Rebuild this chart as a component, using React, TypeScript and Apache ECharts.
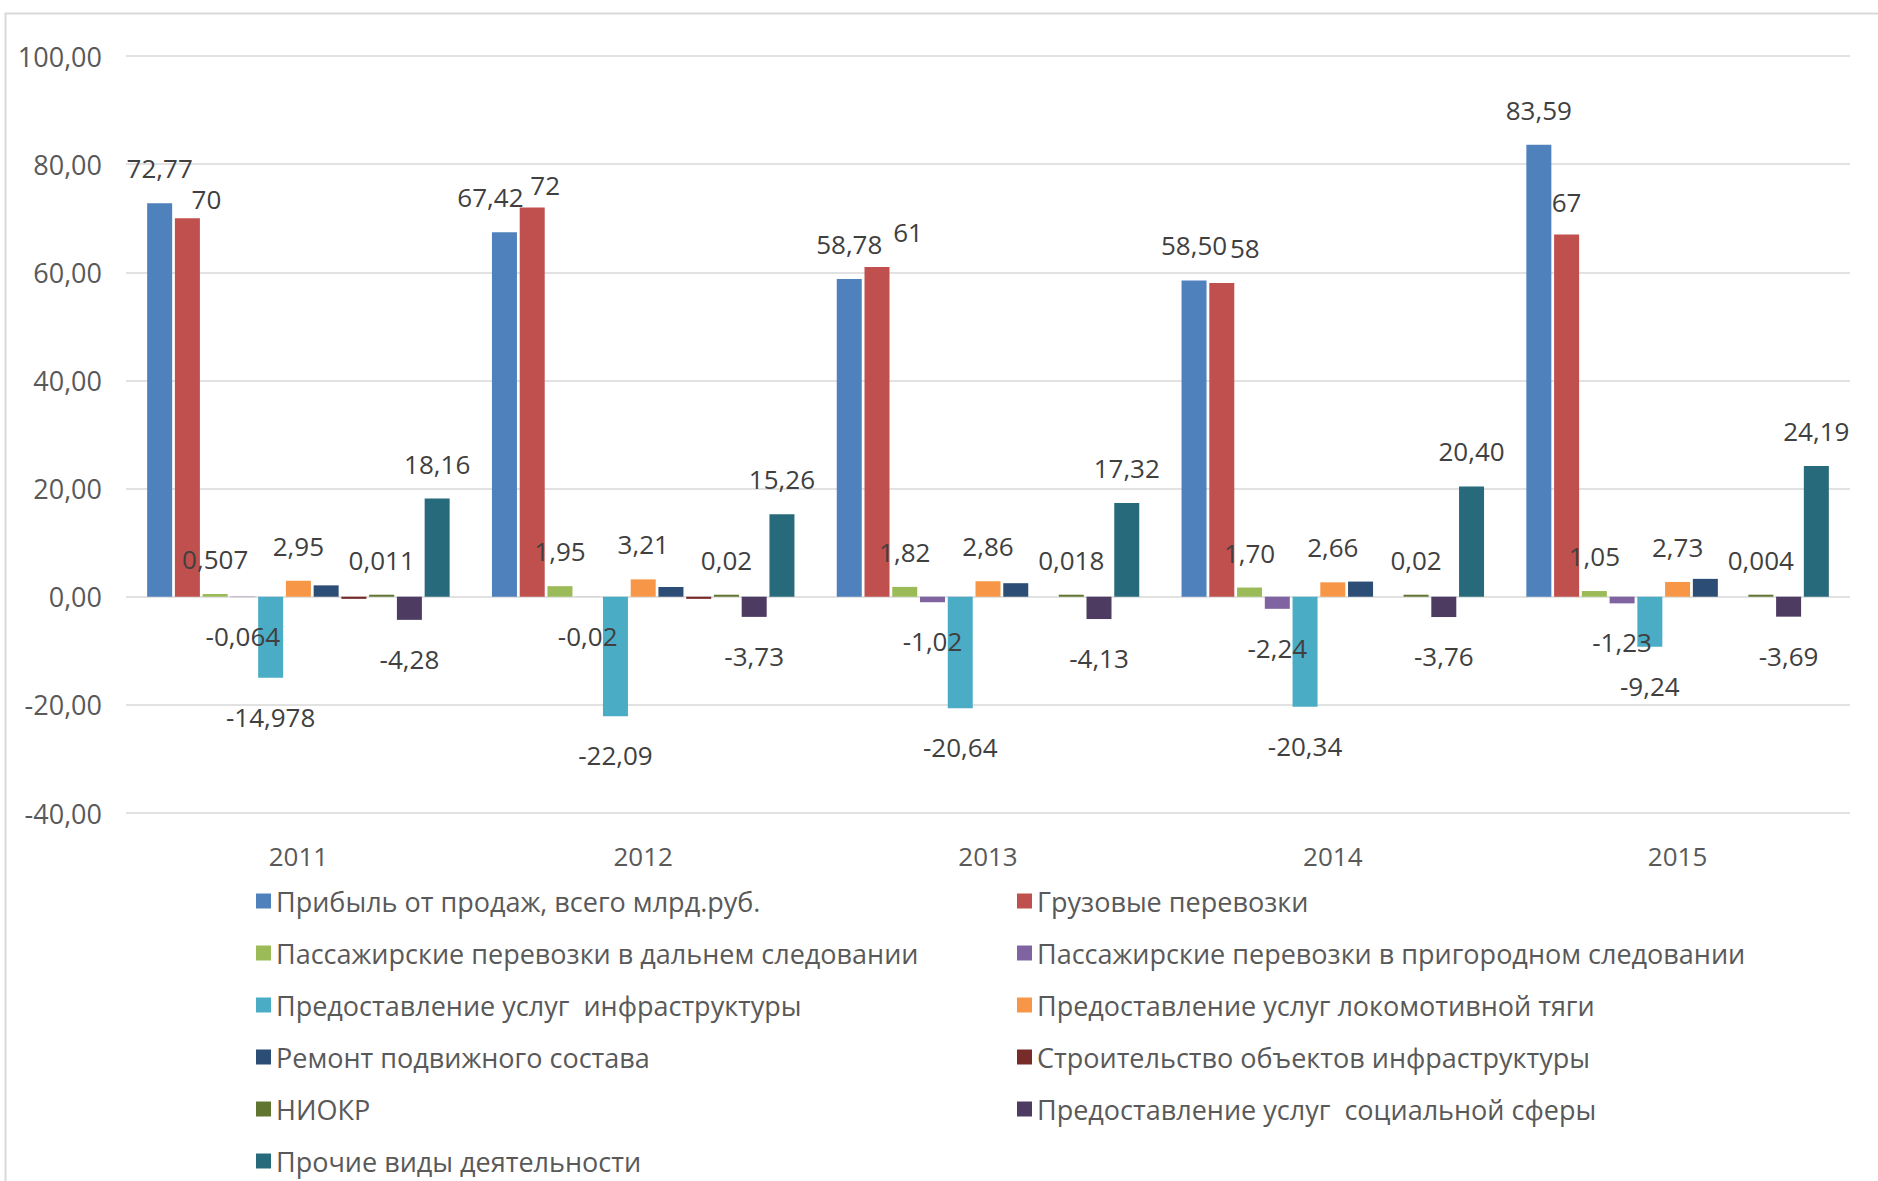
import React, { useEffect, useRef } from "react";
import * as echarts from "echarts";

const years = ["2011", "2012", "2013", "2014", "2015"];

const seriesNames = [
  "Прибыль от продаж, всего млрд.руб.",
  "Грузовые перевозки",
  "Пассажирские перевозки в дальнем следовании",
  "Пассажирские перевозки в пригородном следовании",
  "Предоставление услуг  инфраструктуры",
  "Предоставление услуг локомотивной тяги",
  "Ремонт подвижного состава",
  "Строительство объектов инфраструктуры",
  "НИОКР",
  "Предоставление услуг  социальной сферы",
  "Прочие виды деятельности",
];

const profit = [72.77, 67.42, 58.78, 58.5, 83.59];
const freight = [70, 72, 61, 58, 67];
const longDistance = [0.507, 1.95, 1.82, 1.7, 1.05];
const suburban = [-0.064, -0.02, -1.02, -2.24, -1.23];
const infrastructure = [-14.978, -22.09, -20.64, -20.34, -9.24];
const traction = [2.95, 3.21, 2.86, 2.66, 2.73];
const repair = [2.1, 1.8, 2.5, 2.8, 3.3];
const construction = [-0.4, -0.4, null, null, null];
const rnd = [0.011, 0.02, 0.018, 0.02, 0.004];
const social = [-4.28, -3.73, -4.13, -3.76, -3.69];
const other = [18.16, 15.26, 17.32, 20.4, 24.19];

const seriesValues = [
  profit, freight, longDistance, suburban, infrastructure, traction,
  repair, construction, rnd, social, other,
];

const yMin = -40;
const yMax = 100;
const yStep = 20;

const colors = [
  "#4F81BD", "#C0504D", "#9BBB59", "#8064A2", "#4BACC6", "#F79646",
  "#2C4D75", "#772C2A", "#5F7530", "#4D3B62", "#276A7C",
];

// which series show value labels
const showLabel = [true, true, true, true, true, true, false, false, true, true, true];
// minimum decimals in labels per series
const minDecimals = [2, 0, 2, 2, 2, 2, 2, 2, 2, 2, 2];
// manual label nudges (Excel placement), [dx, dy] per year
const labelNudges: Record<number, number[][]> = {
  0: [[0, 0], [-14, 0], [0, 0], [0, 0], [0, 0]],
  1: [[19, 16], [13, 13], [31, 0], [23, 0], [0, 3]],
};

const fmt = (v: number, minDec: number) => {
  const s = String(v);
  const dec = s.includes(".") ? s.split(".")[1].length : 0;
  const out = dec < minDec ? v.toFixed(minDec) : s;
  return out.replace(".", ",");
};

const FONT = "Open Sans";

export default function App() {
  const ref = useRef<HTMLDivElement>(null);

  useEffect(() => {
    document.body.style.margin = "0";
    if (!ref.current) return;
    const chart = echarts.init(ref.current, undefined, { renderer: "svg" });

    const series = seriesValues.map((vals, si) => ({
      name: seriesNames[si],
      type: "bar",
      barWidth: 25,
      barGap: "11%",
      barMinHeight: si === 8 ? 2 : 0,
      itemStyle: { color: colors[si] },
      label: {
        show: showLabel[si],
        position: "outside",
        distance: 22,
        fontFamily: FONT,
        fontSize: 26,
        color: "#404040",
        formatter: (p: any) => fmt(p.value, minDecimals[si]),
      },
      data: vals.map((v, i) => {
        if (v === null) return v;
        const n = labelNudges[si];
        const lbl: any = {};
        if (n && (n[i][0] !== 0 || n[i][1] !== 0)) lbl.offset = n[i];
        if (v < 0) lbl.distance = 26;
        return Object.keys(lbl).length ? { value: v, label: lbl } : v;
      }),
    }));

    const leftNames = seriesNames.filter((_, i) => i % 2 === 0);
    const rightNames = seriesNames.filter((_, i) => i % 2 === 1);

    const legendCommon = {
      orient: "vertical",
      top: 881,
      height: 340,
      itemWidth: 15,
      itemHeight: 15,
      itemGap: 22,
      icon: "rect",
      textStyle: {
        fontFamily: FONT,
        fontSize: 27,
        lineHeight: 30,
        color: "#595959",
      },
    };

    chart.setOption({
      animation: false,
      backgroundColor: "#ffffff",
      color: colors,
      graphic: [
        {
          type: "rect",
          left: 3,
          top: 11,
          shape: { width: 1900, height: 1200 },
          style: { fill: "none", stroke: "#D9D9D9", lineWidth: 2 },
          silent: true,
        },
      ],
      grid: { left: 126, right: 28, top: 56, bottom: 368, containLabel: false },
      legend: [
        { ...legendCommon, left: 251, data: leftNames },
        { ...legendCommon, left: 1012, data: rightNames },
      ],
      xAxis: {
        type: "category",
        data: years,
        axisLine: { show: false },
        axisTick: { show: false },
        axisLabel: {
          margin: 30,
          fontFamily: FONT,
          fontSize: 26,
          color: "#595959",
        },
      },
      yAxis: {
        type: "value",
        min: yMin,
        max: yMax,
        interval: yStep,
        axisLine: { show: false },
        axisTick: { show: false },
        splitLine: { lineStyle: { color: "#D9D9D9", width: 1.5 } },
        axisLabel: {
          margin: 24,
          fontFamily: FONT,
          fontSize: 27,
          color: "#595959",
          formatter: (v: number) => v.toFixed(2).replace(".", ","),
        },
      },
      series,
    });

    return () => chart.dispose();
  }, []);

  return <div ref={ref} style={{ width: 1878, height: 1181 }} />;
}
